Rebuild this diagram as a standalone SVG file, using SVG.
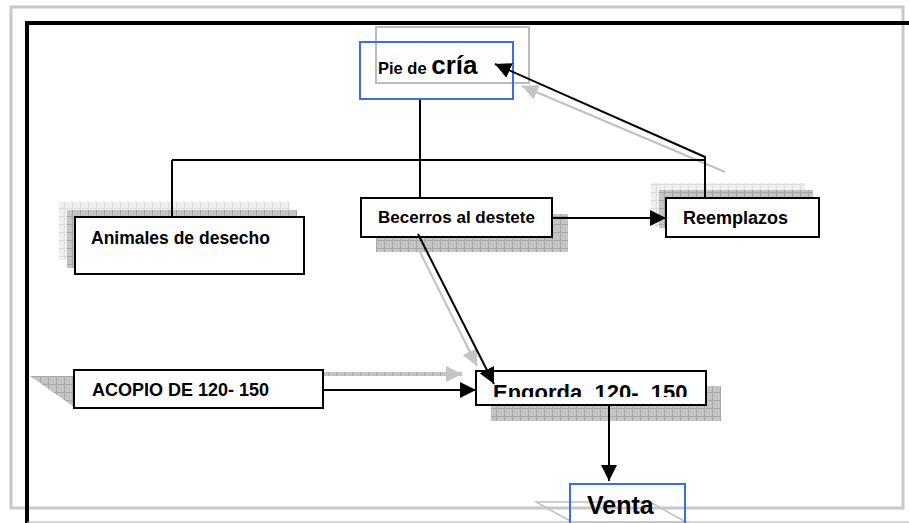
<svg xmlns="http://www.w3.org/2000/svg" width="909" height="523" viewBox="0 0 909 523">
<defs>
<pattern id="dk" width="8" height="8" patternUnits="userSpaceOnUse"><rect width="8" height="8" fill="#c4c4c4"/><path d="M0 0.5H8M0.5 0V8" stroke="#a8a8a8" stroke-width="1"/></pattern>
<pattern id="lt" width="8" height="8" patternUnits="userSpaceOnUse"><rect width="8" height="8" fill="#efefef"/><path d="M0 0.5H8M0.5 0V8" stroke="#dedede" stroke-width="1"/></pattern>
<marker id="ah" viewBox="0 0 10 10" refX="10" refY="5" markerWidth="16" markerHeight="16" markerUnits="userSpaceOnUse" orient="auto"><path d="M0 0L10 5L0 10z" fill="#000"/></marker>
<marker id="ahg" viewBox="0 0 10 10" refX="10" refY="5" markerWidth="16" markerHeight="16" markerUnits="userSpaceOnUse" orient="auto"><path d="M0 0L10 5L0 10z" fill="#c4c4c4"/></marker>
<clipPath id="engClip"><rect x="476" y="371" width="230" height="26"/></clipPath>
<style>
.box{fill:#fff;stroke:#000;stroke-width:2}
.blue{fill:none;stroke:#3b6cf0;stroke-width:2}
.t{font-family:"Liberation Sans",Arial,sans-serif;font-weight:bold;fill:#000}
.c{fill:none;stroke:#000;stroke-width:2}
.g{fill:none;stroke:#c0c0c0;stroke-width:2}
</style>
</defs>
<rect width="909" height="523" fill="#fff"/>
<!-- frames -->
<rect x="11" y="7" width="892" height="501" fill="none" stroke="#c8c8c8" stroke-width="3"/>
<path d="M27 523V23H909" fill="none" stroke="#000" stroke-width="4"/>
<path d="M27 522H909" stroke="#b0b0b0" stroke-width="1"/>

<g id="shadow-connectors">
<path d="M725 172L522 86" class="g" marker-end="url(#ahg)"/>
<path d="M405 222L477 366" class="g" stroke-width="3" marker-end="url(#ahg)"/>
<path d="M323 374H462" stroke="url(#dk)" stroke-width="4" fill="none" marker-end="url(#ahg)"/>
</g>

<g id="node-pie">
<rect x="376" y="27" width="153" height="56" fill="none" stroke="#bcbcbc" stroke-width="2"/>
<rect x="360" y="42" width="153" height="57" class="blue"/>
<text x="378" y="74" class="t" font-size="16.5">Pie de <tspan font-size="26">cría</tspan></text>
</g>

<g id="node-animales">
<rect x="59" y="202" width="231" height="58" fill="url(#lt)"/>
<rect x="67" y="210" width="230" height="58" fill="url(#dk)"/>
<rect x="75" y="217" width="229" height="57" class="box"/>
<text x="91" y="244" class="t" font-size="17.5">Animales de desecho</text>
</g>

<g id="node-becerros">
<rect x="376" y="214" width="192" height="38" fill="url(#dk)"/>
<rect x="361" y="198" width="191" height="39" class="box"/>
<text x="378" y="223" class="t" font-size="17">Becerros al destete</text>
</g>

<g id="node-reemplazos">
<rect x="651" y="183" width="154" height="44" fill="url(#lt)"/>
<rect x="659" y="190" width="154" height="38" fill="url(#dk)"/>
<rect x="666" y="198" width="153" height="39" class="box"/>
<text x="683" y="224" class="t" font-size="18">Reemplazos</text>
</g>

<g id="node-acopio">
<path d="M30 376H74V407z" fill="url(#dk)"/>
<rect x="74" y="370" width="249" height="38" class="box"/>
<text x="92" y="396" class="t" font-size="18">ACOPIO DE 120- 150</text>
</g>

<g id="node-engorda">
<rect x="491" y="386" width="230" height="35" fill="url(#dk)"/>
<rect x="476" y="371" width="230" height="34" class="box"/>
<text x="493" y="400" class="t" font-size="22" clip-path="url(#engClip)" xml:space="preserve">Engorda  120-  150</text>
</g>

<g id="node-venta">
<path d="M536 502H650L686 522H572z" fill="none" stroke="#c0c0c0" stroke-width="1.5"/>
<rect x="570" y="484" width="115" height="40" class="blue" stroke="#2020f0"/>
<text x="587" y="514" class="t" font-size="25">Venta</text>
</g>

<g id="connectors">
<path d="M420 100V198" class="c"/>
<path d="M172 160H705" class="c"/>
<path d="M172 160V217" class="c"/>
<path d="M705 198V157L495 64" class="c" marker-end="url(#ah)"/>
<path d="M552 218H666" class="c" marker-end="url(#ah)"/>
<path d="M418 234L494 384" class="c" stroke-width="2.5" marker-end="url(#ah)"/>
<path d="M323 390H476" class="c" stroke-width="3" marker-end="url(#ah)"/>
<path d="M609 405V481" class="c" marker-end="url(#ah)"/>
</g>
</svg>
